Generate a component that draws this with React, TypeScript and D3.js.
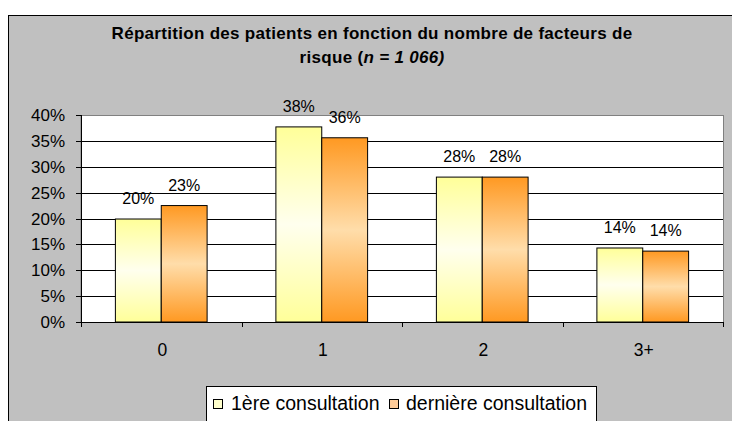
import React from "react";
import * as d3 from "d3";

const categories = ["0", "1", "2", "3+"];
const series = ["1ère consultation", "dernière consultation"];
const firstVisit = [0.199, 0.377, 0.28, 0.143];
const lastVisit = [0.225, 0.356, 0.28, 0.137];
const labelsFirst = ["20%", "38%", "28%", "14%"];
const labelsLast = ["23%", "36%", "28%", "14%"];
const yTicks = [0, 0.05, 0.1, 0.15, 0.2, 0.25, 0.3, 0.35, 0.4];

const W = 732, H = 421;
const plot = { left: 81, right: 723, top: 115, bottom: 322 };

export default function App() {
  const x = d3.scaleBand<string>().domain(categories).range([plot.left, plot.right]);
  const y = d3.scaleLinear().domain([0, 0.4]).range([plot.bottom, plot.top]);
  const bw = x.bandwidth() / 3.5;
  const font = "'Liberation Sans', Arial, sans-serif";
  const seriesData = [
    { vals: firstVisit, labels: labelsFirst, grad: "gY" },
    { vals: lastVisit, labels: labelsLast, grad: "gO" },
  ];
  return (
    <svg width={W} height={H} style={{ position: "absolute", left: 0, top: 0 }}>
      <defs>
        <linearGradient id="gY" x1="0" y1="0" x2="0" y2="1">
          <stop offset="0" stopColor="#FFFF99" />
          <stop offset="0.5" stopColor="#FFFFEE" />
          <stop offset="1" stopColor="#FFFF99" />
        </linearGradient>
        <linearGradient id="gO" x1="0" y1="0" x2="0" y2="1">
          <stop offset="0" stopColor="#FF9922" />
          <stop offset="0.5" stopColor="#FFDDAA" />
          <stop offset="1" stopColor="#FF9922" />
        </linearGradient>
      </defs>
      <rect x={0} y={0} width={W} height={H} fill="#fff" />
      <rect x={8.5} y={15.5} width={W} height={H} fill="#C0C0C0" stroke="#000" strokeWidth={1} />
      <text x={372} y={39} textAnchor="middle" fontFamily={font} fontWeight="bold" fontSize={17} letterSpacing={0.3} fill="#000">
        Répartition des patients en fonction du nombre de facteurs de
      </text>
      <text x={372} y={63} textAnchor="middle" fontFamily={font} fontWeight="bold" fontSize={17} letterSpacing={0.3} fill="#000">
        risque (<tspan fontStyle="italic">n = 1 066)</tspan>
      </text>
      <rect x={plot.left} y={plot.top + 0.5} width={plot.right - plot.left + 0.5} height={plot.bottom - plot.top} fill="#fff" stroke="#808080" />
      {yTicks.map((t) => (
        <g key={t}>
          {t > 0 && t < 0.4 && (
            <line x1={plot.left} x2={plot.right} y1={Math.round(y(t)) + 0.5} y2={Math.round(y(t)) + 0.5} stroke="#000" />
          )}
          <line x1={plot.left - 5} x2={plot.left} y1={Math.round(y(t)) + 0.5} y2={Math.round(y(t)) + 0.5} stroke="#000" />
          <text x={65} y={Math.round(y(t)) + 5.5} textAnchor="end" fontFamily={font} fontSize={17} fill="#000">
            {Math.round(t * 100)}%
          </text>
        </g>
      ))}
      <line x1={plot.left + 0.5} x2={plot.left + 0.5} y1={plot.top} y2={plot.bottom} stroke="#000" />
      {categories.map((c, i) => (
        <g key={c}>
          {seriesData.map((s, j) => {
            const bx = (x(c) as number) + bw * 0.75 + j * bw;
            return (
              <g key={j}>
                <rect x={bx} y={y(s.vals[i])} width={bw} height={plot.bottom - y(s.vals[i])} fill={`url(#${s.grad})`} stroke="#000" strokeWidth={1} />
                <text x={bx + bw / 2} y={y(s.vals[i]) - 15} textAnchor="middle" fontFamily={font} fontSize={16} fill="#000">
                  {s.labels[i]}
                </text>
              </g>
            );
          })}
          <text x={(x(c) as number) + x.bandwidth() / 2 + 1} y={356} textAnchor="middle" fontFamily={font} fontSize={17.5} fill="#000">
            {c}
          </text>
        </g>
      ))}
      {[...categories.map((c) => x(c) as number), plot.right].map((v, i) => (
        <line key={i} x1={Math.round(v) + 0.5} x2={Math.round(v) + 0.5} y1={plot.bottom} y2={plot.bottom + 5} stroke="#000" />
      ))}
      <line x1={plot.left} x2={plot.right} y1={plot.bottom + 0.5} y2={plot.bottom + 0.5} stroke="#000" />
      <rect x={206.5} y={386.5} width={390} height={40} fill="#fff" stroke="#000" />
      <rect x={213.5} y={399.5} width={9} height={9} fill="#FFFFCC" stroke="#000" />
      <text x={231} y={410} fontFamily={font} fontSize={19.5} fill="#000">{series[0]}</text>
      <rect x={389.5} y={399.5} width={9} height={9} fill="#FFCC99" stroke="#000" />
      <text x={406} y={410} fontFamily={font} fontSize={19.5} fill="#000">{series[1]}</text>
    </svg>
  );
}
